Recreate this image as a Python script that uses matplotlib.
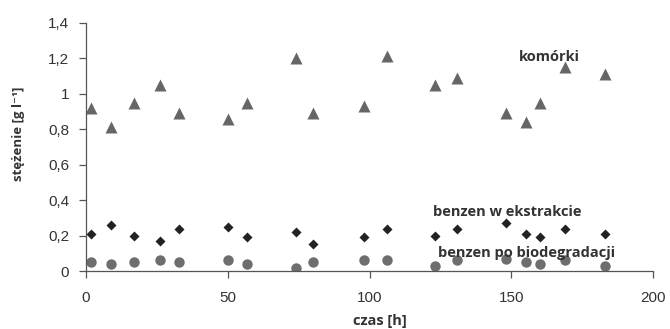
import numpy as np
import matplotlib.pyplot as plt

# czas [h]
czas = [2, 9, 17, 26, 33, 50, 57, 74, 80, 98, 106, 123, 131, 148, 155, 160, 169, 183]

# stężenie [g/l]
komorki = [0.92, 0.81, 0.95, 1.05, 0.89, 0.86, 0.95, 1.20, 0.89,
           0.93, 1.21, 1.05, 1.09, 0.89, 0.84, 0.95, 1.15, 1.11]
ekstrakcja = [0.21, 0.26, 0.20, 0.17, 0.24, 0.25, 0.19, 0.22, 0.15,
              0.19, 0.24, 0.20, 0.24, 0.27, 0.21, 0.19, 0.24, 0.21]
biodegradacja = [0.05, 0.04, 0.05, 0.06, 0.05, 0.06, 0.04, 0.02, 0.05,
                 0.06, 0.06, 0.03, 0.06, 0.07, 0.05, 0.04, 0.06, 0.03]

yticks = [0, 0.2, 0.4, 0.6, 0.8, 1.0, 1.2, 1.4]
ytick_labels = ['0', '0,2', '0,4', '0,6', '0,8', '1', '1,2', '1,4']

fig = plt.figure(figsize=(6.7, 3.29), dpi=100)
ax = fig.add_axes([0.128, 0.176, 0.847, 0.755])

ax.plot(czas, komorki, '^', color='#666666', ms=8, mec='none')
ax.plot(czas, ekstrakcja, 'D', color='#222222', ms=5, mec='none')
ax.plot(czas, biodegradacja, 'o', color='#6e6e6e', ms=7.5, mec='none')

ax.set_xlim(0, 200)
ax.set_ylim(0, 1.4)
ax.set_xticks([0, 50, 100, 150, 200])
ax.set_yticks(yticks)
ax.set_yticklabels(ytick_labels)

for s in ['top', 'right']:
    ax.spines[s].set_visible(False)
for s in ['left', 'bottom']:
    ax.spines[s].set_color('#555555')
    ax.spines[s].set_linewidth(0.9)
ax.tick_params(direction='out', length=5, width=0.9, color='#555555',
               labelsize=11, labelcolor='#333333')
ax.tick_params(axis='x', pad=9)
ax.tick_params(axis='y', pad=7)
for lab in ax.get_xticklabels() + ax.get_yticklabels():
    lab.set_family('Liberation Sans')

lbl = dict(family=['Open Sans', 'DejaVu Sans'], fontweight='bold', color='#333333')
fig.text(0.028, 0.593, 'stężenie [g l⁻¹]', fontsize=9.5, rotation=90,
         ha='center', va='center', **lbl)
fig.text(0.567, 0.025, 'czas [h]', fontsize=10.5, ha='center', va='center', **lbl)

ax.text(152.5, 1.206, 'komórki', fontsize=10.5, va='center', **lbl)
ax.text(122.5, 0.333, 'benzen w ekstrakcie', fontsize=10.5, va='center', **lbl)
ax.text(124.2, 0.10, 'benzen po biodegradacji', fontsize=10.5, va='center', **lbl)

plt.savefig('out.png', dpi=100)
